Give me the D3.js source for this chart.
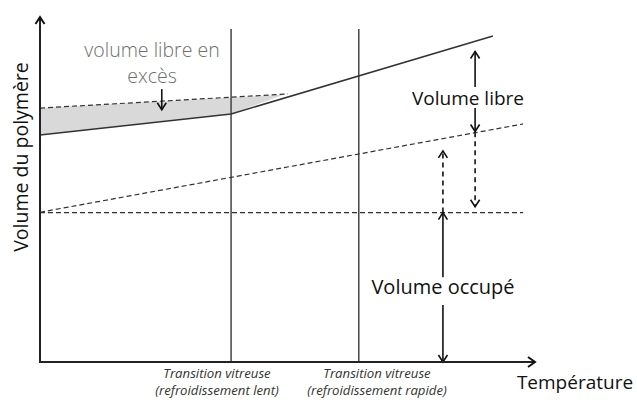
<!DOCTYPE html>
<html>
<head>
<meta charset="utf-8">
<script src="https://cdnjs.cloudflare.com/ajax/libs/d3/7.8.5/d3.min.js"></script>
<style>
  body { margin: 0; background: #fff; }
  svg { display: block; font-family: "Open Sans", sans-serif; }
</style>
</head>
<body>
<svg id="chart" width="637" height="400"></svg>
<script>
// schematic values (temperature 0-100, volume 0-100)
const tgSlow = 38.6;
const tgFast = 64.4;
const tgTop = 96.5;

// liquid + slowly cooled glass (solid)
const liquidLine = [[0, 65.8], [38.6, 71.9], [91.5, 94.5]];
// quickly cooled glass (dashed)
const fastGlassLine = [[0, 73.6], [50.1, 77.7]];
// excess free volume (grey area)
const excessArea = [[0, 65.8], [38.6, 71.9], [49.2, 77.5], [0, 73.6]];
// free volume line and occupied volume line (dashed)
const freeLine = [[0, 43.4], [97.6, 69.0]];
const occupiedLine = [[0, 43.3], [97.6, 43.3]];

// arrows: x, from, to (tip), dashed
const arrows = [
  {x: 87.9, from: 79.7, to: 90.0, dashed: false},
  {x: 87.9, from: 73.6, to: 66.8, dashed: false},
  {x: 81.4, from: 43.3, to: 61.2, dashed: true},
  {x: 87.9, from: 66.6, to: 45.0, dashed: true},
  {x: 81.4, from: 24.6, to: 43.3, dashed: false},
  {x: 81.4, from: 16.5, to: 0, dashed: false},
  {x: 24.6, from: 79.1, to: 73.1, dashed: false}
];

let chart = d3.select("#chart");

let x = d3.scaleLinear().domain([0, 100]).range([40, 535]);
let y = d3.scaleLinear().domain([0, 100]).range([362, 17]);

let line = d3.line().x(d => x(d[0])).y(d => y(d[1]));

// grey excess area
chart.append("path")
  .attr("d", line(excessArea) + "Z")
  .attr("fill", "#d9d9d9")
  .attr("stroke", "none");

// transition lines
chart.selectAll(".tg")
  .data([tgSlow, tgFast]).enter()
  .append("line")
  .attr("x1", d => x(d)).attr("x2", d => x(d))
  .attr("y1", y(tgTop)).attr("y2", y(0))
  .attr("stroke", "#444")
  .attr("stroke-width", 1.5);

// dashed lines
chart.selectAll(".dash")
  .data([fastGlassLine, freeLine, occupiedLine]).enter()
  .append("path")
  .attr("d", d => line(d))
  .attr("fill", "none")
  .attr("stroke", "#333")
  .attr("stroke-width", 1.2)
  .attr("stroke-dasharray", "5,3");

// solid liquid/glass line
chart.append("path")
  .attr("d", line(liquidLine))
  .attr("fill", "none")
  .attr("stroke", "#333")
  .attr("stroke-width", 1.5);

// chevron arrowhead helper
function head(g, px, py, dir, w) {
  // dir: -1 pointing up, 1 pointing down, "right" for the x axis
  let p;
  if (dir === "right") p = `M${px - 7},${py - 5}L${px},${py}L${px - 7},${py + 5}`;
  else p = `M${px - 4.5},${py - dir * 7}L${px},${py}L${px + 4.5},${py - dir * 7}`;
  g.append("path").attr("d", p)
    .attr("fill", "none").attr("stroke", "#111")
    .attr("stroke-width", w).attr("stroke-linejoin", "miter");
}

// arrows
let ag = chart.append("g");
arrows.forEach(a => {
  ag.append("line")
    .attr("x1", x(a.x)).attr("x2", x(a.x))
    .attr("y1", y(a.from)).attr("y2", y(a.to))
    .attr("stroke", "#111")
    .attr("stroke-width", 1.6)
    .attr("stroke-dasharray", a.dashed ? "5,4" : null);
  head(ag, x(a.x), y(a.to), a.to > a.from ? -1 : 1, 1.6);
});

// axes
chart.append("path")
  .attr("d", `M${x(0)},${y(100)}L${x(0)},${y(0)}L${x(100)},${y(0)}`)
  .attr("fill", "none")
  .attr("stroke", "#222")
  .attr("stroke-width", 2);
head(chart, x(0), y(100), -1, 2);
head(chart, x(100), y(0), "right", 2);

// texts
chart.append("text")
  .text("Volume du polymère")
  .attr("transform", "translate(28," + 157 + ") rotate(-90)")
  .attr("text-anchor", "middle")
  .style("font-size", "19.5px")
  .style("fill", "#111");

chart.append("text")
  .text("Température")
  .attr("x", 575).attr("y", 389)
  .attr("text-anchor", "middle")
  .style("font-size", "19px")
  .style("fill", "#111");

chart.append("text")
  .text("Volume libre")
  .attr("x", 468).attr("y", 105)
  .attr("text-anchor", "middle")
  .style("font-size", "19px")
  .style("fill", "#111");

chart.append("text")
  .text("Volume occupé")
  .attr("x", 443).attr("y", 294)
  .attr("text-anchor", "middle")
  .style("font-size", "20px")
  .style("fill", "#111");

let excess = chart.append("text")
  .attr("text-anchor", "middle")
  .style("font-size", "19.5px")
  .style("font-weight", 300)
  .style("fill", "#6e6e6e");
excess.append("tspan").attr("x", 152).attr("y", 57).text("volume libre en");
excess.append("tspan").attr("x", 152).attr("y", 83).text("excès");

let tgLabels = [
  {x: 217, lines: ["Transition vitreuse", "(refroidissement lent)"]},
  {x: 377, lines: ["Transition vitreuse", "(refroidissement rapide)"]}
];
tgLabels.forEach(l => {
  let t = chart.append("text")
    .attr("text-anchor", "middle")
    .style("font-size", "13.2px")
    .style("font-style", "italic")
    .style("fill", "#333");
  l.lines.forEach((s, i) => t.append("tspan").attr("x", l.x).attr("y", 378 + i * 17).text(s));
});
</script>
</body>
</html>
